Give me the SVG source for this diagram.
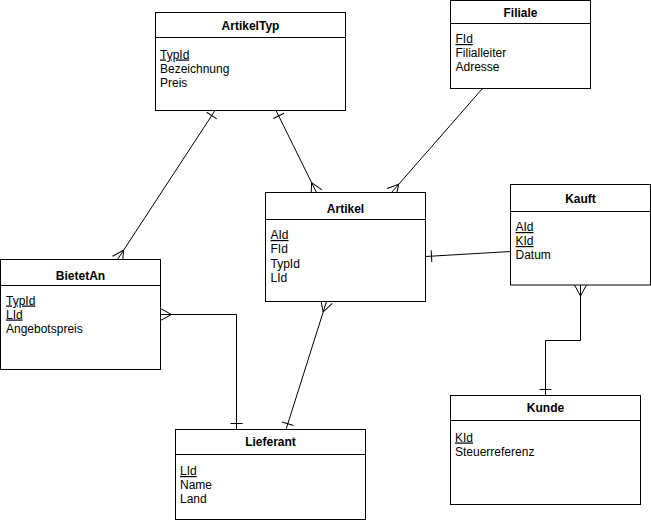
<svg xmlns="http://www.w3.org/2000/svg" width="651" height="521" viewBox="0 0 651 521">
<style>
.box{fill:#fff;stroke:#000;stroke-width:1}
.sep{stroke:#000;stroke-width:1}
.title{font-family:"Liberation Sans",Arial,sans-serif;font-size:12px;font-weight:bold;text-anchor:middle;fill:#000}
.attr{font-family:"Liberation Sans",Arial,sans-serif;font-size:12px;fill:#000}
.pk{text-decoration:underline}
.conn path{fill:none;stroke:#000;stroke-width:1}
</style>
<defs>
<marker id="many" viewBox="-13 -8 15 16" refX="0" refY="0" markerWidth="15" markerHeight="16" orient="auto-start-reverse" markerUnits="userSpaceOnUse" overflow="visible">
<path d="M-11,0 L0,-6 M-11,0 L0,6" fill="none" stroke="#000" stroke-width="1"/>
</marker>
<marker id="one" viewBox="-13 -8 15 16" refX="0" refY="0" markerWidth="15" markerHeight="16" orient="auto-start-reverse" markerUnits="userSpaceOnUse" overflow="visible">
<path d="M-6,-6 L-6,6" fill="none" stroke="#000" stroke-width="1"/>
</marker>
</defs>
<rect width="651" height="521" fill="#fff"/>
<g id="connectors" class="conn">
<path d="M215,110.5 L117.5,259.5" marker-start="url(#one)" marker-end="url(#many)"/>
<path d="M276,110.5 L316.5,192.5" marker-start="url(#one)" marker-end="url(#many)"/>
<path d="M482.5,88.5 L391.5,192.5" marker-end="url(#many)"/>
<path d="M425.5,256.5 L510.5,251.5" marker-start="url(#one)"/>
<path d="M545.5,395.5 V340.5 H580.5 V285" marker-start="url(#one)" marker-end="url(#many)"/>
<path d="M236.5,429.5 V314.5 H160.5" marker-start="url(#one)" marker-end="url(#many)"/>
<path d="M286,429.5 L326.5,301.5" marker-start="url(#one)" marker-end="url(#many)"/>
</g>
<g id="ArtikelTyp">
<rect class="box" x="155.5" y="12.5" width="190" height="98"/>
<line class="sep" x1="155.5" y1="37.5" x2="345.5" y2="37.5"/>
<text class="title" x="250.5" y="29.5">ArtikelTyp</text>
<text class="attr pk" x="160" y="58.5">TypId</text>
<text class="attr" x="160" y="72.5">Bezeichnung</text>
<text class="attr" x="160" y="86.5">Preis</text>
</g>
<g id="Filiale">
<rect class="box" x="450.5" y="0.5" width="140" height="88"/>
<line class="sep" x1="450.5" y1="23.5" x2="590.5" y2="23.5"/>
<text class="title" x="520.5" y="16.5">Filiale</text>
<text class="attr pk" x="455.5" y="43">FId</text>
<text class="attr" x="455.5" y="57">Filialleiter</text>
<text class="attr" x="455.5" y="71">Adresse</text>
</g>
<g id="Artikel">
<rect class="box" x="265.5" y="192.5" width="160" height="109"/>
<line class="sep" x1="265.5" y1="219.5" x2="425.5" y2="219.5"/>
<text class="title" x="345.5" y="212.5">Artikel</text>
<text class="attr pk" x="270.5" y="239">AId</text>
<text class="attr" x="270.5" y="253">FId</text>
<text class="attr" x="270.5" y="267.5">TypId</text>
<text class="attr" x="270.5" y="281.5">LId</text>
</g>
<g id="Kauft">
<rect class="box" x="510.5" y="184.5" width="140" height="100.5"/>
<line class="sep" x1="510.5" y1="211.5" x2="650.5" y2="211.5"/>
<text class="title" x="580.5" y="202.5">Kauft</text>
<text class="attr pk" x="515.5" y="231">AId</text>
<text class="attr pk" x="515.5" y="245">KId</text>
<text class="attr" x="515.5" y="259">Datum</text>
</g>
<g id="BietetAn">
<rect class="box" x="0.5" y="259.5" width="160" height="110"/>
<line class="sep" x1="0.5" y1="285.5" x2="160.5" y2="285.5"/>
<text class="title" x="80.5" y="279.5">BietetAn</text>
<text class="attr pk" x="6" y="304.5">TypId</text>
<text class="attr pk" x="6" y="318.5">LId</text>
<text class="attr" x="6" y="332.5">Angebotspreis</text>
</g>
<g id="Lieferant">
<rect class="box" x="175.5" y="429.5" width="190" height="90"/>
<line class="sep" x1="175.5" y1="454.5" x2="365.5" y2="454.5"/>
<text class="title" x="270.5" y="446">Lieferant</text>
<text class="attr pk" x="180" y="475">LId</text>
<text class="attr" x="180" y="489">Name</text>
<text class="attr" x="180" y="503">Land</text>
</g>
<g id="Kunde">
<rect class="box" x="450.5" y="395.5" width="190" height="109"/>
<line class="sep" x1="450.5" y1="420.5" x2="640.5" y2="420.5"/>
<text class="title" x="545.5" y="412">Kunde</text>
<text class="attr pk" x="455" y="441.5">KId</text>
<text class="attr" x="455" y="455.5">Steuerreferenz</text>
</g>
</svg>
